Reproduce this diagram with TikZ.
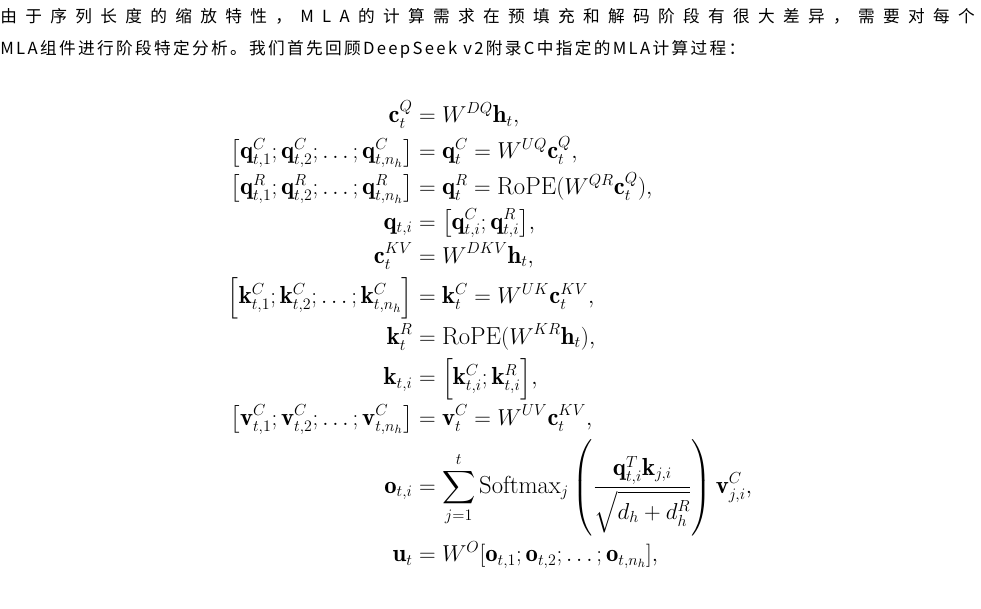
\documentclass[tikz,border=0pt]{standalone}
\usepackage{amsmath}
\usepackage{fontspec}
\newfontfamily\cjka[LetterSpace=50]{Noto Sans CJK SC}
\newfontfamily\cjkb[LetterSpace=14]{Noto Sans CJK SC}
\begin{document}
\begin{tikzpicture}[x=0.75pt,y=-0.75pt]
\useasboundingbox[fill=white] (0,0) rectangle (981,609);
\tikzset{txt/.style={anchor=west,inner sep=0pt,font=\fontsize{12.5}{15}\selectfont}}
\node[txt] (l1) at (0,16) {\cjka 由于序列长度的缩放特性，MLA的计算需求在预填充和解码阶段有很大差异，需要对每个};
\node[txt] (l2) at (0,49) {\cjkb MLA组件进行阶段特定分析。我们首先回顾DeepSeek v2附录C中指定的MLA计算过程：};
\node[anchor=north,inner sep=0pt] (eq) at (490,80) {\begin{minipage}{735pt}\fontsize{18.5}{22}\selectfont\setlength{\jot}{2.8pt}
\begin{align*}
\mathbf{c}_t^{Q} &= W^{DQ}\mathbf{h}_t,\\
\big[\mathbf{q}_{t,1}^{C};\mathbf{q}_{t,2}^{C};\ldots;\mathbf{q}_{t,n_h}^{C}\big] &= \mathbf{q}_t^{C} = W^{UQ}\mathbf{c}_t^{Q},\\
\big[\mathbf{q}_{t,1}^{R};\mathbf{q}_{t,2}^{R};\ldots;\mathbf{q}_{t,n_h}^{R}\big] &= \mathbf{q}_t^{R} = \mathrm{RoPE}(W^{QR}\mathbf{c}_t^{Q}),\\
\mathbf{q}_{t,i} &= \big[\mathbf{q}_{t,i}^{C};\mathbf{q}_{t,i}^{R}\big],\\
\mathbf{c}_t^{KV} &= W^{DKV}\mathbf{h}_t,\\
\Big[\mathbf{k}_{t,1}^{C};\mathbf{k}_{t,2}^{C};\ldots;\mathbf{k}_{t,n_h}^{C}\Big] &= \mathbf{k}_t^{C} = W^{UK}\mathbf{c}_t^{KV},\\
\mathbf{k}_t^{R} &= \mathrm{RoPE}(W^{KR}\mathbf{h}_t),\\
\mathbf{k}_{t,i} &= \Big[\mathbf{k}_{t,i}^{C};\mathbf{k}_{t,i}^{R}\Big],\\
\big[\mathbf{v}_{t,1}^{C};\mathbf{v}_{t,2}^{C};\ldots;\mathbf{v}_{t,n_h}^{C}\big] &= \mathbf{v}_t^{C} = W^{UV}\mathbf{c}_t^{KV},\\
\mathbf{o}_{t,i} &= \sum_{j=1}^{t}\mathrm{Softmax}_j\left(\frac{\mathbf{q}_{t,i}^{T}\mathbf{k}_{j,i}}{\sqrt{d_h+d_h^{R}}}\right)\mathbf{v}_{j,i}^{C},\\
\mathbf{u}_t &= W^{O}[\mathbf{o}_{t,1};\mathbf{o}_{t,2};\ldots;\mathbf{o}_{t,n_h}],
\end{align*}
\end{minipage}};
\end{tikzpicture}
\end{document}
